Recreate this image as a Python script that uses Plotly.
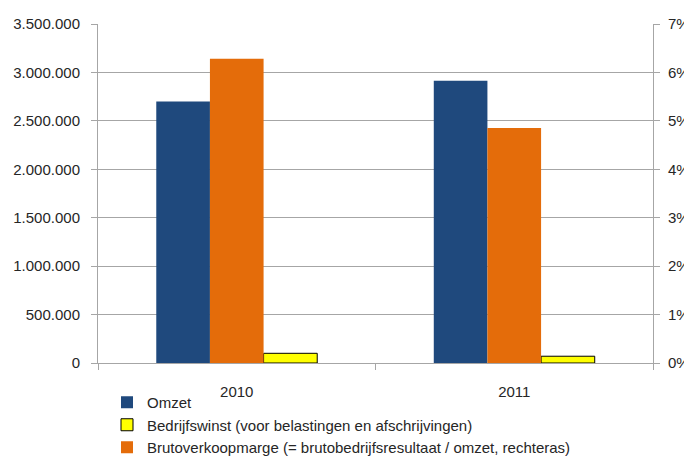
import plotly.graph_objects as go

years = ["2010", "2011"]
omzet = [2700000, 2915000]
bedrijfswinst = [100000, 70000]
brutomarge = [6.28, 4.85]  # percent, right axis

left_ticks = [0, 500000, 1000000, 1500000, 2000000, 2500000, 3000000, 3500000]
right_ticks = [0, 1, 2, 3, 4, 5, 6, 7]
right_labels = ["0%", "1%", "2%", "3%", "4%", "5%", "6%", "7%"]

FONT = "Liberation Sans, Arial, sans-serif"
TXT = "#262626"
GRID = "#A6A6A6"
FS = 15

# The page body has an 8px margin, so the figure is drawn 8px smaller than the window.
W, H = 684, 449

fig = go.Figure()
fig.add_trace(go.Bar(
    x=years, y=omzet, name="Omzet", yaxis="y",
    marker=dict(color="#1F497D", line=dict(width=0)),
    offsetgroup="1", alignmentgroup="a", legendrank=1,
))
fig.add_trace(go.Bar(
    x=years, y=brutomarge, name="Brutoverkoopmarge (= brutobedrijfsresultaat / omzet, rechteras)",
    yaxis="y2",
    marker=dict(color="#E46C0A", line=dict(width=0)),
    offsetgroup="2", alignmentgroup="a", legendrank=3,
))
fig.add_trace(go.Bar(
    x=years, y=bedrijfswinst, name="Bedrijfswinst (voor belastingen en afschrijvingen)",
    yaxis="y",
    marker=dict(color="#FFFF00", line=dict(width=1, color="#000000")),
    offsetgroup="3", alignmentgroup="a", legendrank=2,
))

fig.update_layout(
    width=W, height=H,
    margin=dict(l=90, r=39, t=16, b=93.5, pad=0, autoexpand=False),
    paper_bgcolor="white", plot_bgcolor="white",
    separators=",.",
    barmode="group", bargap=0.42, bargroupgap=0,
    font=dict(family=FONT, size=FS, color=TXT),
    showlegend=True,
    legend=dict(
        xref="container", yref="container",
        x=99 / W, xanchor="left", y=1 - 378 / H, yanchor="top",
        orientation="v", traceorder="normal",
        font=dict(family=FONT, size=FS, color=TXT),
        itemwidth=30, tracegroupgap=0, bgcolor="rgba(0,0,0,0)",
    ),
    xaxis=dict(
        type="category", tickson="boundaries",
        ticks="outside", ticklen=6, tickcolor=GRID,
        showline=True, linecolor=GRID, linewidth=1,
        showgrid=False, automargin=False, ticklabelstandoff=15,
        tickfont=dict(family=FONT, size=FS, color=TXT),
    ),
    yaxis=dict(
        range=[0, 3500000], tickvals=left_ticks, tickformat=",d",
        ticks="outside", ticklen=6, tickcolor=GRID,
        showline=True, linecolor=GRID, linewidth=1,
        showgrid=True, gridcolor=GRID, gridwidth=1,
        zeroline=False, automargin=False, ticklabelstandoff=8,
        tickfont=dict(family=FONT, size=FS, color=TXT),
    ),
    yaxis2=dict(
        range=[0, 7], tickvals=right_ticks, ticktext=right_labels,
        overlaying="y", side="right",
        ticks="outside", ticklen=6, tickcolor=GRID,
        showline=True, linecolor=GRID, linewidth=1,
        showgrid=False, zeroline=False, automargin=False, ticklabelstandoff=5,
        tickfont=dict(family=FONT, size=FS, color=TXT),
    ),
)

fig.write_html("out.html")
